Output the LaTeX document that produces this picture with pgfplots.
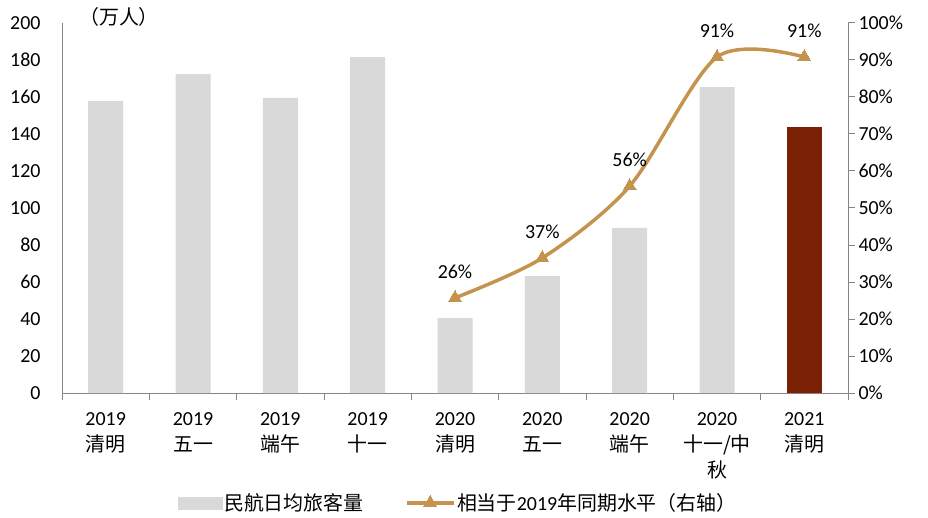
\documentclass[border=0pt]{standalone}
\usepackage{pgfplots}
\pgfplotsset{compat=1.18}
\usepackage{fontspec}
\setmainfont{Carlito}
\newfontfamily\cjk{Noto Sans CJK SC}
\definecolor{bargray}{RGB}{217,217,217}
\definecolor{darkred}{RGB}{122,32,4}
\definecolor{gold}{RGB}{196,148,78}
\definecolor{axgray}{RGB}{134,134,134}
\pgfplotsset{mylineleg/.style={legend image code/.code={\draw[mark repeat=2,mark phase=2,##1] plot coordinates {(0bp,0bp)(23bp,0bp)(46bp,0bp)};}},
  mybarleg/.style={legend image code/.code={\fill[bargray] (0bp,-6bp) rectangle (44bp,6bp);}}}
\begin{document}
\begin{tikzpicture}
\useasboundingbox (0,0) rectangle (928bp,518bp);
\pgfplotsset{every axis/.append style={font=\fontsize{20}{24}\selectfont}}
\begin{axis}[
  at={(62bp,125bp)}, anchor=south west,
  width=786bp, height=370bp, scale only axis,
  xmin=-0.5, xmax=8.5, ymin=0, ymax=200,
  ytick={0,20,...,200},
  /pgf/number format/assume math mode=true,
  axis x line*=bottom, axis y line*=left,
  axis line style={axgray, line width=1pt},
  major tick length=0pt,
  yticklabel style={xshift=-18bp},
  xtick={0,...,8},
  xticklabels={{2019\\\cjk 清明},{2019\\\cjk 五一},{2019\\\cjk 端午},{2019\\\cjk 十一},{2020\\\cjk 清明},{2020\\\cjk 五一},{2020\\\cjk 端午},{2020\\\cjk 十一/中\\\cjk 秋},{2021\\\cjk 清明}},
  xticklabel style={align=center, font=\fontsize{20}{26}\selectfont, yshift=-16bp},
  extra x ticks={-0.5,0.5,...,8.5},
  extra x tick labels={},
  extra x tick style={major tick length=7bp, tick align=outside, tick style={axgray, line width=1pt}},
  clip=false,
]
\addplot[ybar, bar width=35bp, fill=bargray, draw=none, bar shift=0pt] coordinates {(0,157.8) (1,172.4) (2,159.5) (3,181.6) (4,40.5) (5,63.2) (6,89.2) (7,165.4)};
\addplot[ybar, bar width=35bp, fill=darkred, draw=none, bar shift=0pt] coordinates {(8,143.8)};
\end{axis}
\begin{axis}[
  at={(62bp,125bp)}, anchor=south west,
  width=786bp, height=370bp, scale only axis,
  xmin=-0.5, xmax=8.5, ymin=0, ymax=100,
  ytick={0,10,...,100},
  /pgf/number format/assume math mode=true,
  yticklabel={\pgfmathprintnumber{\tick}\%},
  axis x line=none, axis y line*=right,
  axis line style={axgray, line width=1pt},
  major tick length=7bp, tick align=outside,
  tick style={axgray, line width=1pt},
  clip=false,
  legend columns=2,
  legend style={draw=none, fill=none, at={(0.504,-0.297)}, anchor=center,
    font=\fontsize{20}{24}\selectfont,
    /tikz/every even column/.append style={column sep=40bp}},
]
\addlegendimage{mybarleg}
\addlegendentry{\cjk 民航日均旅客量}
\addplot[gold, line width=3.5bp, smooth, mark=triangle*, mark size=7.5bp,
  mark options={fill=gold, draw=gold, line width=0pt},
  point meta=explicit symbolic,
  nodes near coords,
  every node near coord/.append style={text=black, yshift=16bp, font=\fontsize{20}{24}\selectfont},
  mylineleg
] coordinates {(4,25.7) [26\%] (5,36.5) [37\%] (6,55.9) [56\%] (7,90.8) [91\%] (8,90.8) [91\%]};
\addlegendentry{{\cjk 相当于}2019{\cjk 年同期水平（右轴）}}
\end{axis}
\node[font=\fontsize{20}{24}\selectfont] at (119bp,501bp) {\cjk （万人）};
\end{tikzpicture}
\end{document}
